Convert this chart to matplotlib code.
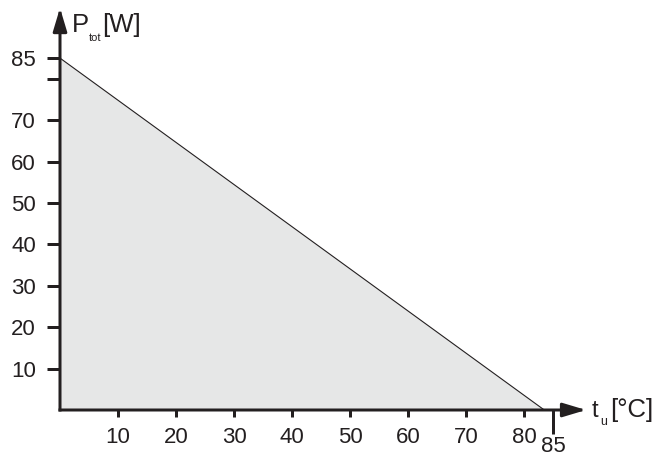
import matplotlib
matplotlib.use("Agg")
import matplotlib.pyplot as plt

plt.rcParams["font.family"] = ["Liberation Sans", "DejaVu Sans"]

# derating curve: total power vs ambient temperature
temp = [0, 83.5]
power = [85, 0]

x_ticks = [10, 20, 30, 40, 50, 60, 70, 80]
x_labels = ["10", "20", "30", "40", "50", "60", "70", "80"]
x_end_tick = [85]
x_end_label = ["85"]
y_ticks = [10, 20, 30, 40, 50, 60, 70, 80, 85]
y_labels = ["10", "20", "30", "40", "50", "60", "70", "", "85"]

INK = "#231f20"
FILL = "#e6e7e7"
W, H = 668, 459
PX = 72 / 100  # points per pixel at dpi 100


def px(x, y):
    return x / W, 1 - y / H


fig = plt.figure(figsize=(W / 100, H / 100), dpi=100)
ax = fig.add_axes([60 / W, 49 / H, 91 * 5.8 / W, 97.5 * 4.14 / H])
ax.set_xlim(0, 91)
ax.set_ylim(0, 97.5)
ax.patch.set_alpha(0)

ax.fill_between(temp, power, 0, color=FILL, lw=0)
ax.plot(temp, power, color=INK, lw=0.8)

for s in ax.spines.values():
    s.set_visible(False)

arrow = dict(arrowstyle="-|>,head_length=1.0,head_width=0.3", mutation_scale=14,
             lw=3 * PX, color=INK, shrinkA=0, shrinkB=0, capstyle="projecting")
ax.annotate("", xy=(90.7, 0), xytext=(0, 0), arrowprops=arrow)
ax.annotate("", xy=(0, 97.1), xytext=(0, 0), arrowprops=arrow)

ax.set_xticks(x_ticks, x_labels)
ax.set_xticks(x_end_tick, x_end_label, minor=True)
ax.tick_params(axis="x", which="major", length=7 * PX, width=3 * PX, pad=10 * PX,
               labelsize=16, color=INK, labelcolor=INK)
ax.tick_params(axis="x", which="minor", length=24 * PX, width=3 * PX, pad=2 * PX,
               labelsize=16, color=INK, labelcolor=INK)
ax.set_yticks(y_ticks, y_labels)
ax.tick_params(axis="y", length=13 * PX, width=3 * PX, pad=11 * PX,
               labelsize=16, color=INK, labelcolor=INK)

# axis titles, base text and subscript placed as separate pieces
fig.text(*px(72, 32), "P", fontsize=18.5, va="baseline", color=INK)
fig.text(*px(89, 41), "tot", fontsize=8, va="baseline", color=INK)
fig.text(*px(102, 32), "[W]", fontsize=18.5, va="baseline", color=INK)
fig.text(*px(592, 417), "t", fontsize=17, va="baseline", color=INK)
fig.text(*px(600, 425), "u", fontsize=9, va="baseline", color=INK)
fig.text(*px(610, 417), "[°C]", fontsize=18.5, va="baseline", color=INK)

fig.savefig("out.png", dpi=100)
